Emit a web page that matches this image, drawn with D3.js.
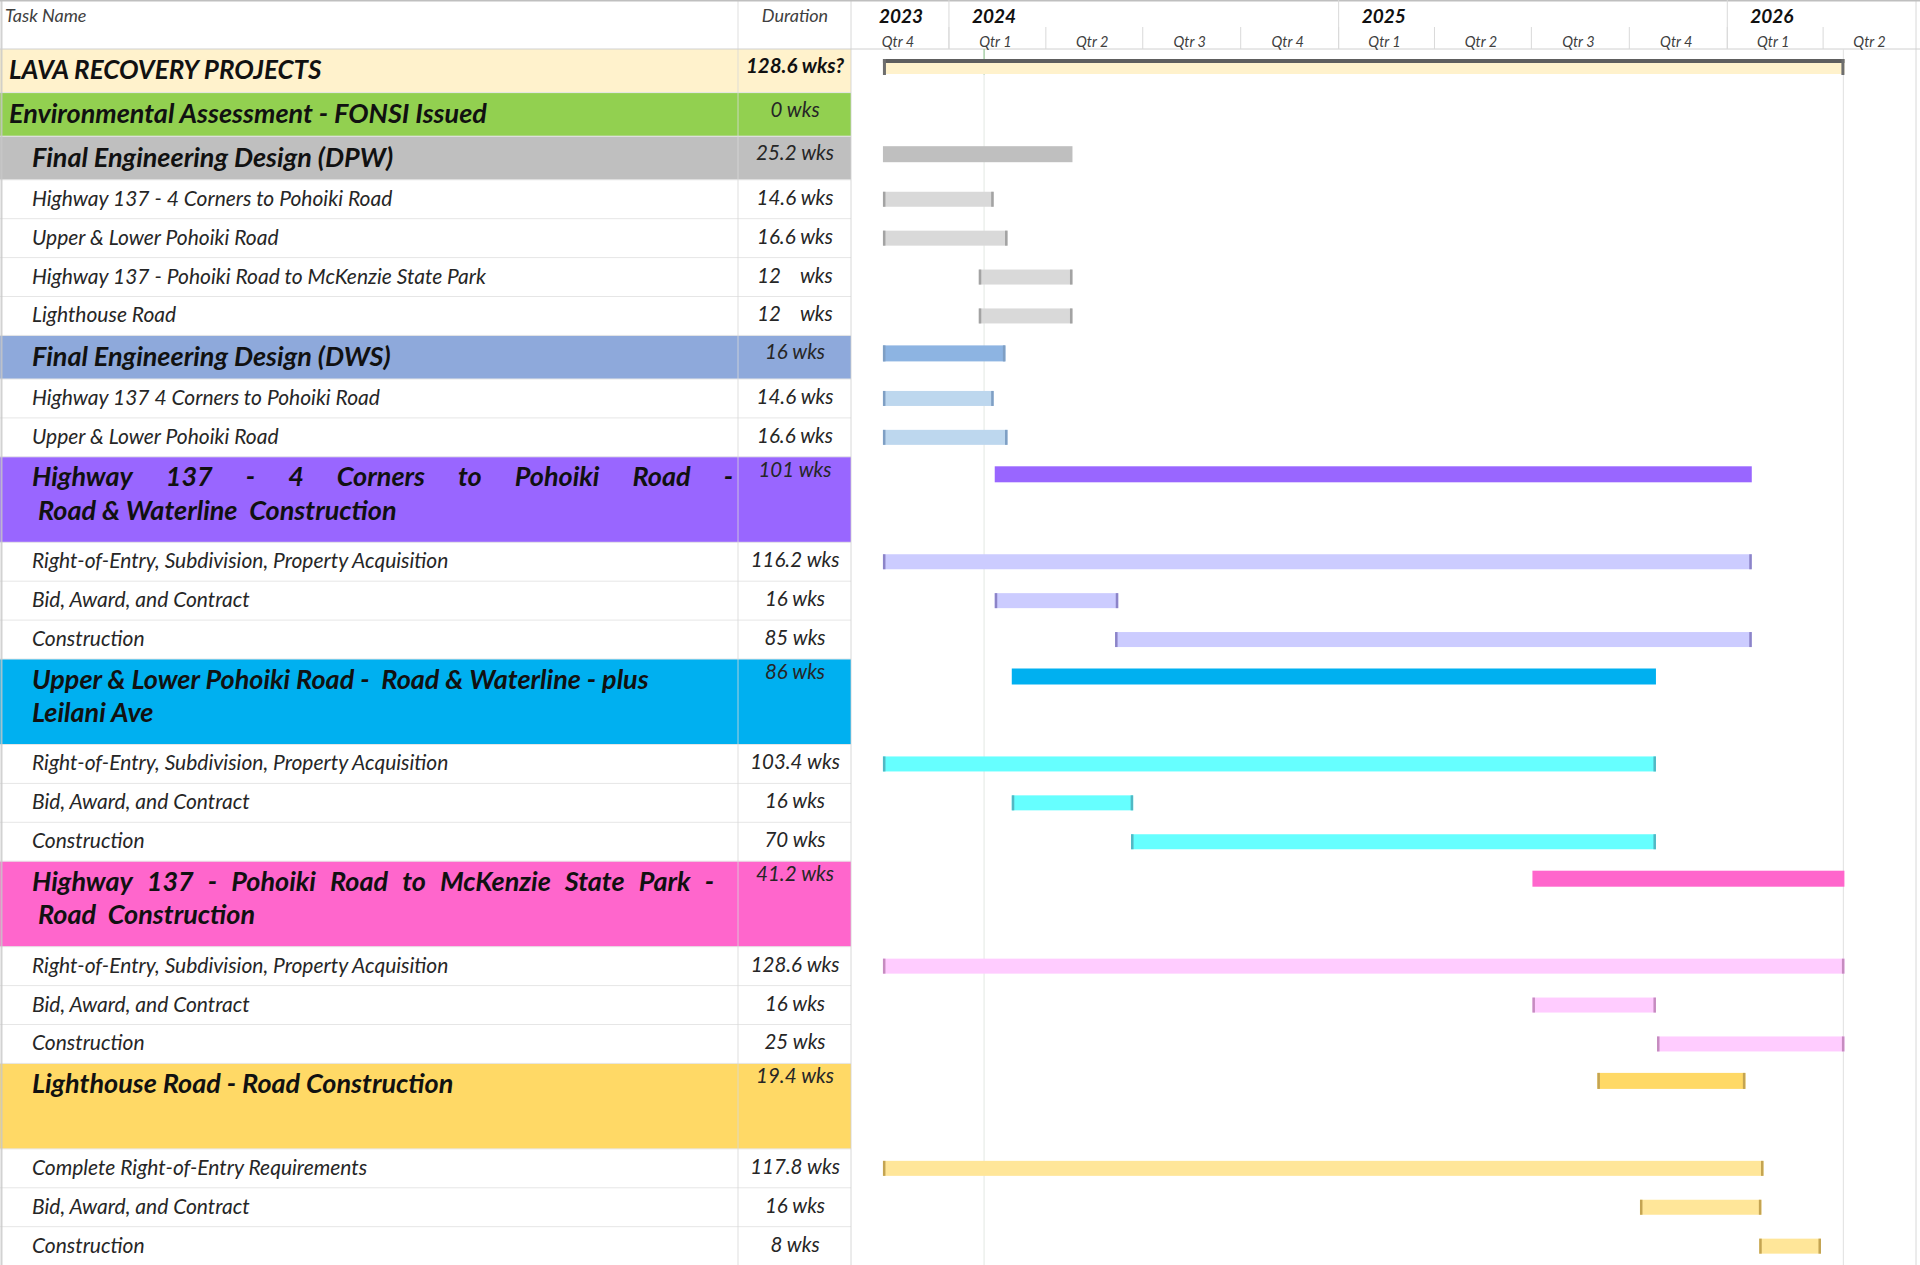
<!DOCTYPE html>
<html><head><meta charset="utf-8">
<script src="https://cdn.jsdelivr.net/npm/d3@7"></script>
<style>
html,body{margin:0;padding:0;background:#fff;}
svg{display:block;font-family:Lato,"Open Sans",sans-serif;}
.nm{font-style:italic;font-size:21px;fill:#262626;}
.nmb{font-style:italic;font-weight:700;font-size:27px;fill:#111;}
.nmt{font-style:italic;font-weight:700;font-size:26px;fill:#111;}
.du{font-style:italic;font-size:20.5px;fill:#262626;white-space:pre;}
.dub{font-style:italic;font-weight:700;font-size:20.5px;fill:#111;}
.hd{font-style:italic;font-size:18px;fill:#404040;}
.yr{font-style:italic;font-weight:700;font-size:19px;fill:#111;}
.qt{font-style:italic;font-size:14.5px;fill:#404040;}
</style></head><body>
<svg id="chart" width="1920" height="1265"></svg>
<script>
// ---------------- data ----------------
const taskNames = [
  "LAVA RECOVERY PROJECTS",
  "Environmental Assessment - FONSI Issued",
  "Final Engineering Design (DPW)",
  "Highway 137 - 4 Corners to Pohoiki Road",
  "Upper & Lower Pohoiki Road",
  "Highway 137 - Pohoiki Road to McKenzie State Park",
  "Lighthouse Road",
  "Final Engineering Design (DWS)",
  "Highway 137 4 Corners to Pohoiki Road",
  "Upper & Lower Pohoiki Road",
  "Highway 137 - 4 Corners to Pohoiki Road -\n Road & Waterline  Construction",
  "Right-of-Entry, Subdivision, Property Acquisition",
  "Bid, Award, and Contract",
  "Construction",
  "Upper & Lower Pohoiki Road -  Road & Waterline - plus\nLeilani Ave",
  "Right-of-Entry, Subdivision, Property Acquisition",
  "Bid, Award, and Contract",
  "Construction",
  "Highway 137 - Pohoiki Road to McKenzie State Park -\n Road  Construction",
  "Right-of-Entry, Subdivision, Property Acquisition",
  "Bid, Award, and Contract",
  "Construction",
  "Lighthouse Road - Road Construction",
  "Complete Right-of-Entry Requirements",
  "Bid, Award, and Contract",
  "Construction"
];
const durations = [
  "128.6 wks?","0 wks","25.2 wks","14.6 wks","16.6 wks","12    wks","12    wks",
  "16 wks","14.6 wks","16.6 wks","101 wks","116.2 wks","16 wks","85 wks",
  "86 wks","103.4 wks","16 wks","70 wks","41.2 wks","128.6 wks","16 wks","25 wks",
  "19.4 wks","117.8 wks","16 wks","8 wks"
];
const outlineLevels = [0,0,1,2,2,2,2,1,2,2,1,2,2,2,1,2,2,2,1,2,2,2,1,2,2,2];
const groupKeys = ["top","env","dpw","dpw","dpw","dpw","dpw","dws","dws","dws",
  "hwy","hwy","hwy","hwy","upl","upl","upl","upl","mck","mck","mck","mck","lh","lh","lh","lh"];
const startDates = [
  "2023-10-31",null,"2023-10-31","2023-10-31","2023-10-31","2024-01-29","2024-01-29",
  "2023-10-31","2023-10-31","2023-10-31","2024-02-13","2023-10-31","2024-02-13","2024-06-05",
  "2024-02-29","2023-10-31","2024-02-29","2024-06-20","2025-07-02","2023-10-31","2025-07-02",
  "2025-10-27","2025-09-01","2023-10-31","2025-10-11","2026-01-31"
];
const finishDates = [
  "2026-04-21",null,"2024-04-26","2024-02-12","2024-02-25","2024-04-26","2024-04-26",
  "2024-02-23","2024-02-12","2024-02-25","2026-01-24","2026-01-24","2024-06-08","2026-01-24",
  "2025-10-26","2025-10-26","2024-06-22","2025-10-26","2026-04-21","2026-04-21","2025-10-26",
  "2026-04-21","2026-01-18","2026-02-04","2026-02-02","2026-03-30"
];
const yearLabels = ["2023","2024","2025","2026"];
const quarterLabels = ["Qtr 4","Qtr 1","Qtr 2","Qtr 3","Qtr 4","Qtr 1","Qtr 2","Qtr 3","Qtr 4","Qtr 1","Qtr 2"];
const timelineStart = "2023-10-01", timelineEnd = "2026-07-01";
const statusDate = "2024-02-03";
const projectFinish = "2026-04-20";

// ---------------- styles / layout ----------------
const palette = {
  top:{band:"#FFF2CC", bar:"#FFF2CC"},
  env:{band:"#92D050"},
  dpw:{band:"#BFBFBF", bar:"#BFBFBF", task:"#D9D9D9", cap:"#A3A3A3"},
  dws:{band:"#8EA9DB", bar:"#8DB4E2", task:"#BDD7EE", cap:"#7F9FC4"},
  hwy:{band:"#9966FF", bar:"#9966FF", task:"#CCCCFF", cap:"#8C84C8"},
  upl:{band:"#00B0F0", bar:"#00B0F0", task:"#66FFFF", cap:"#52B8C4"},
  mck:{band:"#FF66CC", bar:"#FF66CC", task:"#FFCCFF", cap:"#C68CC0"},
  lh:{band:"#FFD966", bar:"#FFD966", task:"#FFE699", cap:"#C4A452"}
};
const layout = {
  width:1920, headerH:49, whiteH:38.9, bandH:43.6, tallH:85.5,
  tallRows:new Set([10,14,18,22]), cappedSummaries:new Set([7,22]),
  justify:{10:733, 18:714},
  nameCol:738, durCenter:795, chartLeft:851, chartRight:1920,
  indent:{0:9,1:32,2:32}
};

const parse = d3.timeParse("%Y-%m-%d");
const svg = d3.select("#chart");
const x = d3.scaleTime().domain([parse(timelineStart), parse(timelineEnd)])
  .range([layout.chartLeft, layout.chartRight]);

// rows
const rows = taskNames.map((n,i)=>({
  i, name:n, dur:durations[i], level:outlineLevels[i], g:groupKeys[i],
  s: startDates[i]?parse(startDates[i]):null, f: finishDates[i]?parse(finishDates[i]):null,
  tall: layout.tallRows.has(i)
}));
let yy = layout.headerH;
rows.forEach(r=>{
  r.h = r.tall ? layout.tallH : (r.level<2 ? layout.bandH : layout.whiteH);
  r.y = yy; yy += r.h;
});

// background bands
svg.append("rect").attr("width",1920).attr("height",1265).attr("fill","#fff");
svg.selectAll("rect.band").data(rows.filter(r=>r.level<2)).join("rect")
  .attr("class","band").attr("x",0).attr("y",d=>d.y).attr("width",layout.chartLeft)
  .attr("height",d=>d.h).attr("fill",d=>palette[d.g].band);

// row separators in table
svg.selectAll("line.rsep").data(rows).join("line").attr("class","rsep")
  .attr("x1",0).attr("x2",layout.chartLeft)
  .attr("y1",d=>d.y+d.h).attr("y2",d=>d.y+d.h)
  .attr("stroke","#E6E6E6").attr("stroke-width",1);

// vertical table lines
[[layout.nameCol,"#D9D9D9"],[layout.chartLeft,"#D0D0D0"],[1.5,"#C8C8C8"],[1916,"#D0D0D0"]].forEach(([xx,c])=>{
  svg.append("line").attr("x1",xx).attr("x2",xx).attr("y1",0).attr("y2",1265)
    .attr("stroke",c).attr("stroke-width",xx<3?2:1).attr("opacity",0.8);
});

// header
svg.append("line").attr("x1",0).attr("x2",1920).attr("y1",0.5).attr("y2",0.5).attr("stroke","#BFBFBF").attr("stroke-width",2);
svg.append("line").attr("x1",0).attr("x2",1920).attr("y1",layout.headerH).attr("y2",layout.headerH).attr("stroke","#D0D0D0");
svg.append("text").attr("class","hd").attr("x",5).attr("y",15).attr("dominant-baseline","central").text("Task Name");
svg.append("text").attr("class","hd").attr("x",layout.durCenter).attr("y",15).attr("text-anchor","middle").attr("dominant-baseline","central").text("Duration");

const quarters = d3.timeMonth.every(3).range(parse(timelineStart), parse(timelineEnd));
const years = d3.timeYear.range(parse(timelineStart), parse(timelineEnd));
svg.selectAll("line.q").data(quarters.slice(1)).join("line").attr("class","q")
  .attr("x1",d=>x(d)).attr("x2",d=>x(d)).attr("y1",27).attr("y2",layout.headerH)
  .attr("stroke","#D9D9D9");
svg.selectAll("line.y").data(years).join("line").attr("class","y")
  .attr("x1",d=>x(d)).attr("x2",d=>x(d)).attr("y1",0).attr("y2",layout.headerH)
  .attr("stroke","#D9D9D9");
svg.selectAll("text.qt").data(quarters).join("text").attr("class","qt")
  .attr("x",d=>(x(d)+x(d3.timeMonth.offset(d,3)))/2 - 2).attr("y",41)
  .attr("text-anchor","middle").attr("dominant-baseline","central")
  .text((d,i)=>quarterLabels[i]);
const yearStarts = [parse(timelineStart)].concat(years);
svg.selectAll("text.yr").data(yearStarts).join("text").attr("class","yr")
  .attr("x",(d,i)=>x(d)+(i===0?28:23)).attr("y",15).attr("dominant-baseline","central")
  .text((d,i)=>yearLabels[i]);

// status / finish lines
svg.append("line").attr("x1",x(parse(statusDate))).attr("x2",x(parse(statusDate)))
  .attr("y1",layout.headerH).attr("y2",1265).attr("stroke","#E3E8E3").attr("stroke-width",1);
svg.append("line").attr("x1",x(parse(statusDate))).attr("x2",x(parse(statusDate)))
  .attr("y1",layout.headerH).attr("y2",rows[0].y+rows[0].h-18).attr("stroke","#9CCB9C").attr("stroke-width",1.2);
svg.append("line").attr("x1",x(parse(projectFinish))).attr("x2",x(parse(projectFinish)))
  .attr("y1",layout.headerH).attr("y2",1265).attr("stroke","#E0E0E0").attr("stroke-width",1);

// names
const nameG = svg.append("g");
function justified(text, x0, x1, y, cls){
  const words = text.split(" ").filter(w=>w.length);
  const ts = words.map(w=>nameG.append("text").attr("class",cls).attr("y",y)
    .attr("dominant-baseline","central").text(w));
  const ws = ts.map(t=>t.node().getComputedTextLength());
  const gap = (x1-x0-d3.sum(ws))/(words.length-1);
  let cx = x0;
  ts.forEach((t,k)=>{t.attr("x",cx); cx += ws[k]+gap;});
}
rows.forEach(r=>{
  const cls = r.i===0 ? "nmt" : (r.level<2 ? "nmb" : "nm");
  const x0 = layout.indent[r.level];
  const lines = r.name.split("\n");
  if (r.tall){
    lines.forEach((ln,k)=>{
      const ly = r.y + 19 + k*33.5;
      if (k===0 && layout.justify[r.i]) justified(ln, x0, layout.justify[r.i], ly, cls);
      else nameG.append("text").attr("class",cls).attr("x",x0).attr("y",ly)
        .attr("dominant-baseline","central").attr("xml:space","preserve").style("white-space","pre").text(ln);
    });
  } else {
    nameG.append("text").attr("class",cls).attr("x",x0).attr("y",r.y+r.h/2-2)
      .attr("dominant-baseline","central").text(lines[0]);
  }
  const dy = r.tall ? r.y+12 : (r.level<2 ? r.y+16 : r.y+r.h/2-2.5);
  nameG.append("text").attr("class", r.i===0?"dub":"du").attr("x",layout.durCenter)
    .attr("y",dy).attr("text-anchor","middle").attr("dominant-baseline","central")
    .attr("xml:space","preserve").text(r.dur);
});

// bars
const barG = svg.append("g");
rows.filter(r=>r.s && r.f).forEach(r=>{
  const pal = palette[r.g];
  const summary = r.level<2;
  const cy = r.tall ? r.y+17.5 : (summary ? r.y+18 : r.y+r.h/2);
  const bh = summary ? 16 : 15;
  const x0 = x(r.s), x1 = x(r.f);
  if (r.i===0){
    barG.append("rect").attr("x",x0).attr("y",cy-7).attr("width",x1-x0).attr("height",14).attr("fill",pal.bar);
    barG.append("rect").attr("x",x0).attr("y",cy-8).attr("width",x1-x0).attr("height",4).attr("fill","#5E5E5E");
    [x0,x1-3].forEach(cx=>barG.append("rect").attr("x",cx).attr("y",cy-8).attr("width",3).attr("height",16).attr("fill","#6E6E6E"));
    return;
  }
  barG.append("rect").attr("x",x0).attr("y",cy-bh/2).attr("width",x1-x0).attr("height",bh)
    .attr("fill", summary ? pal.bar : pal.task);
  if (!summary || layout.cappedSummaries.has(r.i)){
    [x0, x1-2.5].forEach(cx=>barG.append("rect").attr("x",cx).attr("y",cy-bh/2).attr("width",2.5)
      .attr("height",bh).attr("fill",pal.cap));
  }
});
</script>
</body></html>
